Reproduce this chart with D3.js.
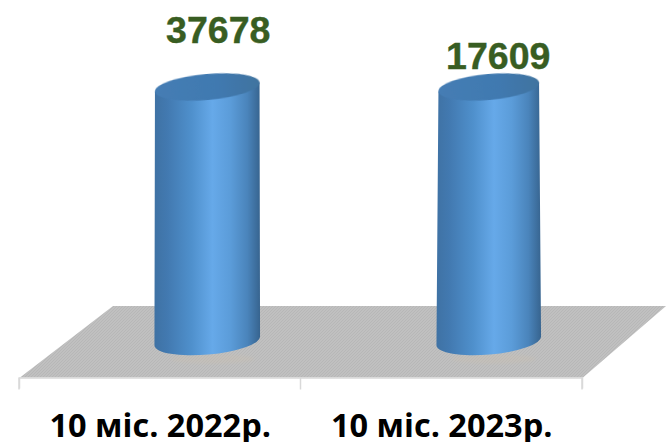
<!DOCTYPE html>
<html><head><meta charset="utf-8">
<script src="https://cdn.jsdelivr.net/npm/d3@7"></script>
<style>html,body{margin:0;padding:0;background:#fff}svg{display:block}</style>
</head><body><div id="c"></div>
<script>
const categories = ["10 міс. 2022р.", "10 міс. 2023р."];
const seriesValues = [37678, 17609];
// The bars of the reference are cut off by the axis maximum: both reach the same top.
const axisDomain = [0, 17000];

const W = 666, H = 442;
const svg = d3.select("#c").append("svg").attr("width", W).attr("height", H);
const defs = svg.append("defs");

const frontY = 377.5, backY = 306, frontL = 20, frontR = 583, depth = 93;
const x = d3.scaleBand().domain(categories).range([frontL - 1, frontR - 1]);
const y = d3.scaleLinear().domain(axisDomain).range([341, 87]).clamp(true);

// floor texture
const pat = defs.append("pattern").attr("id", "dots").attr("width", 3).attr("height", 3)
  .attr("patternUnits", "userSpaceOnUse");
pat.append("rect").attr("width", 3).attr("height", 3).attr("fill", "#c0c0c0");
pat.append("path").attr("d", "M0 3L3 0").attr("stroke", "#b6b6b6").attr("stroke-width", 0.9);

// cylinder gradients
const side = defs.append("linearGradient").attr("id", "side");
[[0,"#3f72a4"],[0.12,"#4279b0"],[0.35,"#4f90cc"],[0.55,"#66a9e9"],[0.72,"#5b9cd9"],[0.88,"#4a84bb"],[1,"#37648f"]]
  .forEach(([o,c]) => side.append("stop").attr("offset", o).attr("stop-color", c));
const top_ = defs.append("linearGradient").attr("id", "top");
[[0,"#457db4"],[0.6,"#4079b0"],[1,"#3f739f"]]
  .forEach(([o,c]) => top_.append("stop").attr("offset", o).attr("stop-color", c));
defs.append("filter").attr("id", "soft").append("feGaussianBlur").attr("stdDeviation", 0.6);
defs.append("filter").attr("id", "soft2").append("feGaussianBlur").attr("stdDeviation", 1.5);

// floor
svg.append("path")
  .attr("d", d3.line()([[frontL, frontY], [frontL + depth, backY], [W, backY], [frontR, frontY]]) + "Z")
  .attr("fill", "url(#dots)");

// category axis
const axis = d3.axisBottom(x).tickSize(11).tickSizeOuter(11).tickFormat("");
const axisG = svg.append("g").attr("transform", `translate(0,${frontY})`).call(axis);
axisG.selectAll(".tick").remove();
axisG.select(".domain").attr("stroke", "#d9d9d9").attr("stroke-width", 1.5);
axisG.selectAll(".sep").data(x.range().concat([x.range()[0] + x.step()])).join("line")
  .attr("class", "sep").attr("x1", d => d).attr("x2", d => d).attr("y1", 0).attr("y2", 12)
  .attr("stroke", "#d9d9d9").attr("stroke-width", 1.5);

// cylinders
const tiltDeg = -5;
const tilt = tiltDeg * Math.PI / 180;
const cx = d => x(d) + x.bandwidth() / 2 + depth / 2 + 1;
const topRx = [52.5, 50.5], botRx = [53, 52.5], ryTop = 13, ryBot = 13.5;
const ends = (c, cy, rx) => [[c - rx * Math.cos(tilt), cy - rx * Math.sin(tilt)], [c + rx * Math.cos(tilt), cy + rx * Math.sin(tilt)]];
categories.forEach((cat, i) => {
  const c = cx(cat), yT = y(seriesValues[i]), yB = y(0);
  const [tl, tr] = ends(c, yT, topRx[i]);
  const [bl, br] = ends(c, yB, botRx[i]);
  svg.append("ellipse").attr("cx", c + 5).attr("cy", yB + 18).attr("rx", 42).attr("ry", 5)
    .attr("fill", "#c9bfb0").attr("opacity", 0.35).attr("filter", "url(#soft2)");
  svg.append("path").attr("class", "bar")
    .attr("d", `M${tl}L${bl}A${botRx[i]} ${ryBot} ${tiltDeg} 0 0 ${br}L${tr}Z`)
    .attr("fill", "url(#side)");
  svg.append("ellipse").attr("cx", c).attr("cy", yT).attr("rx", topRx[i]).attr("ry", ryTop)
    .attr("transform", `rotate(${tiltDeg} ${c} ${yT})`)
    .attr("fill", "url(#top)").attr("filter", "url(#soft)");
});

// value labels
const labelBase = [43, 69];
svg.selectAll(".val").data(seriesValues).join("text").attr("class", "val")
  .attr("x", (d, i) => cx(categories[i]) + (i ? 9.5 : 11))
  .attr("y", (d, i) => labelBase[i])
  .attr("text-anchor", "middle")
  .attr("font-family", "'Liberation Sans', Arial, sans-serif").attr("font-weight", 700)
  .attr("font-size", 37.5).attr("fill", "#385d22")
  .attr("stroke", "#385d22").attr("stroke-width", 0.4)
  .text(d => d);

// category labels
svg.selectAll(".cat").data(categories).join("text").attr("class", "cat")
  .attr("x", d => x(d) + x.bandwidth() / 2 + 0.5)
  .attr("y", 436.5)
  .attr("text-anchor", "middle")
  .attr("font-family", "'Open Sans', sans-serif").attr("font-weight", 700)
  .attr("font-size", 32.5).attr("fill", "#000")
  .text(d => d);
</script></body></html>
